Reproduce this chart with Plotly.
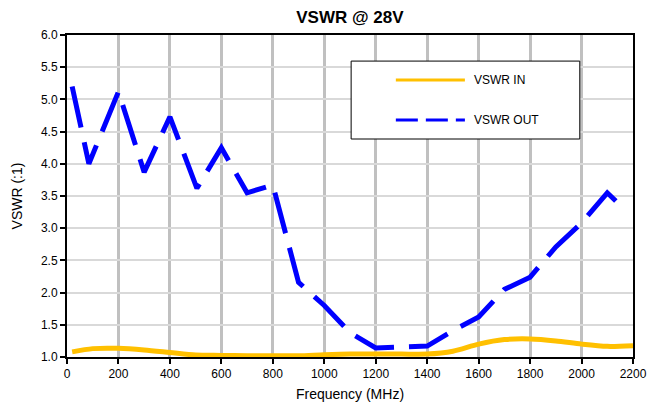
import plotly.graph_objects as go

# VSWR OUT (blue dashed)
freq_out = [20, 50, 85, 200, 300, 400, 505, 600, 700, 800, 900, 1000, 1100,
            1200, 1300, 1400, 1500, 1600, 1700, 1800, 1900, 2000, 2100, 2170]
vswr_out = [5.20, 4.62, 4.00, 5.12, 3.87, 4.73, 3.62, 4.25, 3.55, 3.67, 2.16,
            1.80, 1.38, 1.14, 1.16, 1.17, 1.41, 1.62, 2.05, 2.24, 2.71, 3.08,
            3.55, 3.28]

# VSWR IN (yellow solid)
freq_in = [20, 100, 200, 300, 400, 500, 600, 700, 800, 900, 1000, 1100, 1200,
           1300, 1400, 1500, 1600, 1700, 1800, 1900, 2000, 2100, 2200]
vswr_in = [1.08, 1.13, 1.135, 1.11, 1.07, 1.03, 1.025, 1.02, 1.02, 1.02, 1.035,
           1.045, 1.045, 1.045, 1.045, 1.09, 1.20, 1.27, 1.28, 1.25, 1.20,
           1.165, 1.175]

x_ticks = list(range(0, 2201, 200))
y_ticks = [1.0, 1.5, 2.0, 2.5, 3.0, 3.5, 4.0, 4.5, 5.0, 5.5, 6.0]

BLUE = "#0000FF"
YELLOW = "#FFC000"
FONT = "Liberation Sans, Arial, sans-serif"

fig = go.Figure()
fig.add_trace(go.Scatter(x=freq_in, y=vswr_in, mode="lines", name="VSWR IN",
                         line=dict(color=YELLOW, width=5, shape="spline", smoothing=0.8),
                         showlegend=False))
fig.add_trace(go.Scatter(x=freq_out, y=vswr_out, mode="lines", name="VSWR OUT",
                         line=dict(color=BLUE, width=5, dash="42px,15px"),
                         showlegend=False))

# custom legend box (Excel-like)
lx0, lx1, ly0, ly1 = 0.502, 0.906, 0.677, 0.919
fig.add_shape(type="rect", xref="paper", yref="paper", x0=lx0, x1=lx1, y0=ly0, y1=ly1,
              line=dict(color="#000000", width=1), fillcolor="white", layer="above")
fig.add_shape(type="line", xref="paper", yref="paper", x0=0.581, x1=0.703, y0=0.860, y1=0.860,
              line=dict(color=YELLOW, width=3), layer="above")
fig.add_shape(type="line", xref="paper", yref="paper", x0=0.581, x1=0.703, y0=0.736, y1=0.736,
              line=dict(color=BLUE, width=3, dash="22px,8px"), layer="above")
fig.add_annotation(xref="paper", yref="paper", x=0.7155, y=0.860, text="VSWR IN",
                   showarrow=False, xanchor="left", yanchor="middle",
                   font=dict(family=FONT, size=12, color="#000"))
fig.add_annotation(xref="paper", yref="paper", x=0.7155, y=0.736, text="VSWR OUT",
                   showarrow=False, xanchor="left", yanchor="middle",
                   font=dict(family=FONT, size=12, color="#000"))

fig.update_layout(
    width=651, height=411,
    margin=dict(l=67, r=18, t=35, b=54),
    paper_bgcolor="white", plot_bgcolor="white",
    font=dict(family=FONT, size=12, color="#000"),
    title=dict(text="<b>VSWR @ 28V</b>", x=0.5375, xanchor="center", y=0.958, yanchor="middle",
               font=dict(family=FONT, size=17, color="#000")),
)
fig.update_xaxes(range=[0, 2200], tickvals=x_ticks, ticktext=[str(v) for v in x_ticks],
                 showgrid=True, gridcolor="#c0c0c0", gridwidth=2.5,
                 showline=True, linecolor="#000", linewidth=2, mirror=True,
                 ticks="outside", ticklen=5, tickwidth=2, tickcolor="#000",
                 zeroline=False, tickfont=dict(size=12), automargin=False,
                 title=dict(text="Frequency (MHz)", font=dict(size=14), standoff=9))
fig.update_yaxes(range=[1, 6], tickvals=y_ticks, ticktext=[f"{v:.1f}" for v in y_ticks],
                 showgrid=True, gridcolor="#d9d9d9", gridwidth=2,
                 showline=True, linecolor="#000", linewidth=2, mirror=True,
                 ticks="outside", ticklen=5, tickwidth=2, tickcolor="#000",
                 zeroline=False, tickfont=dict(size=12), automargin=False,
                 title=dict(text="VSWR (:1)", font=dict(size=14), standoff=15))

fig.write_html("out.html", config={"displayModeBar": False},
               post_script="document.body.style.margin='0';document.body.style.padding='0';")
